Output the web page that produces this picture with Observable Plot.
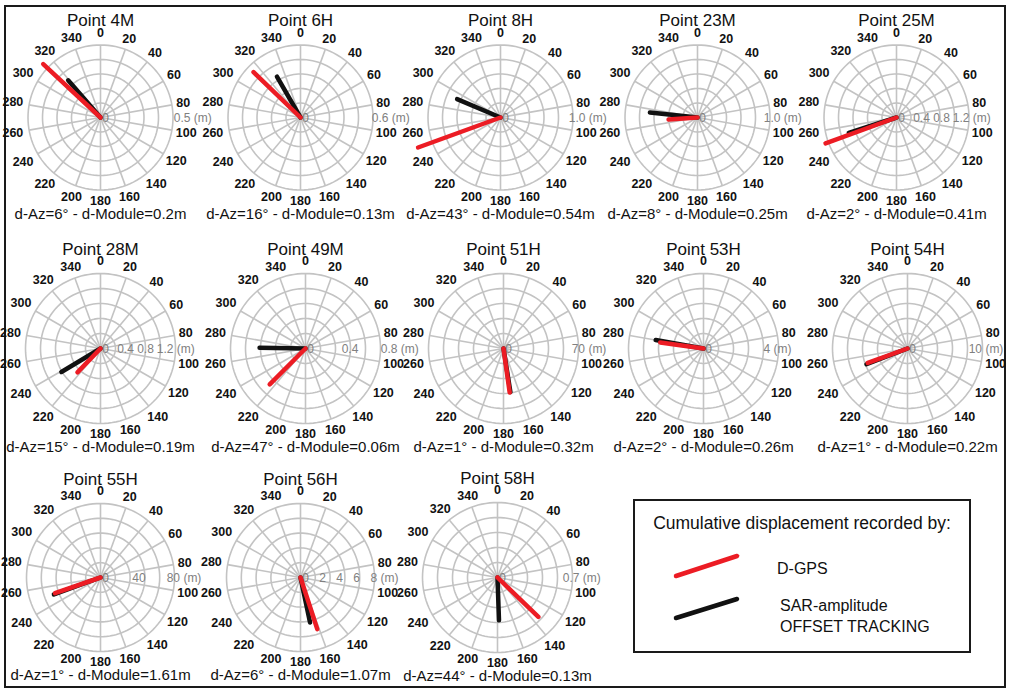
<!DOCTYPE html>
<html>
<head>
<meta charset="utf-8">
<script src="https://cdn.jsdelivr.net/npm/d3@7"></script>
<script src="https://cdn.jsdelivr.net/npm/@observablehq/plot@0.6"></script>
<style>
  body { margin: 0; background: #fff; }
  #chart { position: relative; width: 1010px; height: 691px; overflow: hidden; background: #fff;
           font-family: "Liberation Sans", Arial, Helvetica, sans-serif; }
  #frame { position: absolute; left: 4px; top: 5px; width: 998px; height: 679px; border: 2px solid #1a1a1a; }
  .panel { position: absolute; }
  g[aria-label="angle labels"] text { letter-spacing: -1px; }
  g[aria-label="radial labels"] text { letter-spacing: -0.5px; }
  g[aria-label="panel title"] text { letter-spacing: 0.4px; }
  g[aria-label="panel caption"] text { letter-spacing: 0.35px; }
  #legend { position: absolute; left: 633px; top: 499px; width: 334px; height: 150px; border: 2px solid #1a1a1a; }
</style>
</head>
<body>
<div id="chart"><div id="frame"></div></div>
<script>
// ---------------- data ----------------
const panelNames = ["4M","6H","8H","23M","25M","28M","49M","51H","53H","54H","55H","56H","58H"];
const radialTicks = [
  ["0","0.5"], ["0","0.6"], ["0","1.0"], ["0","1.0"], ["0","0.4","0.8","1.2"],
  ["0","0.4","0.8","1.2"], ["0","0.4","0.8"], ["0","70"], ["0","4"], ["0","10"],
  ["0","40","80"], ["0","2","4","6","8"], ["0","0.7"]
];
// azimuth in degrees (clockwise from north), module in metres
const gpsAzimuth = [313, 314, 250, 266, 250, 224, 225, 172, 278, 250, 251, 162, 134];
const gpsModule  = [0.54, 0.54, 1.21, 0.40, 1.25, 0.53, 0.54, 41.4, 2.33, 5.64, 52.0, 5.87, 0.53];
const sarAzimuth = [319, 330, 293, 276, 252, 239, 271, 171, 280, 249, 250, 168, 178];
const sarModule  = [0.34, 0.39, 0.65, 0.66, 0.83, 0.73, 0.49, 41.1, 2.59, 5.86, 53.6, 4.97, 0.40];
const dAz     = [6, 16, 43, 8, 2, 15, 47, 1, 2, 1, 1, 6, 44];
const dModule = ["0.2","0.13","0.54","0.25","0.41","0.19","0.06","0.32","0.26","0.22","1.61","1.07","0.13"];
const azimuthTicks = [0,20,40,60,80,100,120,140,160,180,200,220,240,260,280,300,320,340];
const ringSteps = [0.2, 0.4, 0.6, 0.8, 1.0];
const legendTitle = "Cumulative displacement recorded by:";
const seriesNames = ["D-GPS", "SAR-amplitude\nOFFSET TRACKING"];
const seriesColors = ["#ec1c24", "#111111"];

// ---------------- layout (centre x, centre y, radius px, px where the last radial label sits) ----------------
const layout = [
  [100,117,72.5,82],[300,117,72.5,80],[500,117,72.5,77],[697,117,72.5,75],[896,117,72.5,65],
  [100,348,75,65],[305,348,75,84],[503,348,75,74],[703,348,75,63],[907,348,75,67],
  [100,577,74,72],[300,577,74,73],[497,577,75,74]
];
const W = 240, H = 216;
const FONT = '"Liberation Sans", Arial, Helvetica, sans-serif';
const rad = a => a * Math.PI / 180;
const ex = (a, r) => r * Math.sin(rad(a));
const ny = (a, r) => r * Math.cos(rad(a));

const chart = document.getElementById("chart");

panelNames.forEach((name, i) => {
  const [cx, cy, R, labelEnd] = layout[i];
  const ticks = radialTicks[i];
  const rmax = +ticks[ticks.length - 1];
  const norm = v => v / rmax;

  // grid rings as closed polylines
  const ringPts = ringSteps.flatMap(f => d3.range(0, 361, 3).map(a => ({f, a})));

  // angle label placement: distance from centre depends on the text box
  const labelDist = a => {
    const w = String(a).length * 5.9, h = 9;
    let d = R + 5 + (w / 2) * Math.abs(Math.sin(rad(a))) + (h / 2) * Math.abs(Math.cos(rad(a)));
    if (a === 0) d += 3;
    if (a === 180) d += 1;
    if (a === 260 || a === 280) d += 2;
    if (a === 240 || a === 300) d += 2;
    return d / R;
  };

  const inner = ticks.slice(0, -1);
  const last = ticks[ticks.length - 1];
  const tickX = v => (5 + norm(+v) * (labelEnd - 5)) / R;

  const series = [
    {az: sarAzimuth[i], m: sarModule[i], c: seriesColors[1]},
    {az: gpsAzimuth[i], m: gpsModule[i], c: seriesColors[0]}
  ];

  const plot = Plot.plot({
    width: W, height: H, margin: 0,
    x: {domain: [-W / 2 / R, W / 2 / R], axis: null},
    y: {domain: [-H / 2 / R, H / 2 / R], axis: null},
    style: {background: "none", overflow: "visible"},
    marks: [
      Plot.line(ringPts, {x: d => ex(d.a, d.f), y: d => ny(d.a, d.f), z: "f",
        stroke: "#c3c3c3", strokeWidth: 1.6}),
      Plot.link(azimuthTicks, {x1: () => 0, y1: () => 0, x2: a => ex(a, 1), y2: a => ny(a, 1),
        stroke: "#c3c3c3", strokeWidth: 1.6}),
      Plot.text(azimuthTicks, {x: a => ex(a, labelDist(a)), y: a => ny(a, labelDist(a)),
        text: a => String(a), fontFamily: FONT, fontSize: 12.5, fontWeight: "bold", fill: "#111",
        ariaLabel: "angle labels"}),
      Plot.text(inner, {x: v => tickX(v), y: () => 0, text: v => v, dy: 1,
        fontFamily: FONT, fontSize: 12, fill: "#808080", ariaLabel: "radial labels"}),
      Plot.text([last], {x: v => tickX(v), y: () => 0, text: v => v + " (m)", dy: 1,
        dx: -(last.length * 5.8) / 2, textAnchor: "start",
        fontFamily: FONT, fontSize: 12, fill: "#808080", ariaLabel: "radial labels"}),
      Plot.link(series, {x1: () => 0, y1: () => 0,
        x2: d => ex(d.az, norm(d.m)), y2: d => ny(d.az, norm(d.m)),
        stroke: d => d.c, strokeWidth: 4.5, strokeLinecap: "round"}),
      Plot.text(["Point " + name], {frameAnchor: "top", lineAnchor: "middle", dy: H / 2 - (R + 24),
        text: d => d, fontFamily: FONT, fontSize: 17, fill: "#111", ariaLabel: "panel title"}),
      Plot.text([`d-Az=${dAz[i]}° - d-Module=${dModule[i]}m`], {frameAnchor: "bottom", lineAnchor: "middle",
        dy: -(H / 2 - (R + 24)), text: d => d, fontFamily: FONT, fontSize: 15, fill: "#111",
        ariaLabel: "panel caption"})
    ]
  });
  const div = document.createElement("div");
  div.className = "panel";
  div.style.left = (cx - W / 2) + "px";
  div.style.top = (cy - H / 2) + "px";
  div.style.width = W + "px";
  div.appendChild(plot);
  chart.appendChild(div);
});

// ---------------- legend ----------------
const legend = document.createElement("div");
legend.id = "legend";
const ns = "http://www.w3.org/2000/svg";
const svg = document.createElementNS(ns, "svg");
svg.setAttribute("width", 334); svg.setAttribute("height", 150);
svg.style.overflow = "visible";
const addText = (x, y, s, size, anchor) => {
  const t = document.createElementNS(ns, "text");
  t.setAttribute("x", x); t.setAttribute("y", y);
  t.setAttribute("font-family", FONT); t.setAttribute("font-size", size);
  t.setAttribute("text-anchor", anchor || "start");
  t.setAttribute("dominant-baseline", "central");
  t.setAttribute("fill", "#111");
  t.textContent = s; svg.appendChild(t);
};
addText(167, 22, legendTitle, 17.5, "middle");
const sampleY = [[75, 55], [117, 98]];
seriesNames.forEach((s, k) => {
  const l = document.createElementNS(ns, "line");
  l.setAttribute("x1", 41); l.setAttribute("y1", sampleY[k][0]);
  l.setAttribute("x2", 102); l.setAttribute("y2", sampleY[k][1]);
  l.setAttribute("stroke", seriesColors[k]); l.setAttribute("stroke-width", 4.5);
  l.setAttribute("stroke-linecap", "round");
  svg.appendChild(l);
  const lines = s.split("\n");
  if (lines.length === 1) addText(142, 67, lines[0], 16);
  else { addText(145, 104, lines[0], 16); addText(145, 125, lines[1], 16); }
});
legend.appendChild(svg);
chart.appendChild(legend);
</script>
</body>
</html>
